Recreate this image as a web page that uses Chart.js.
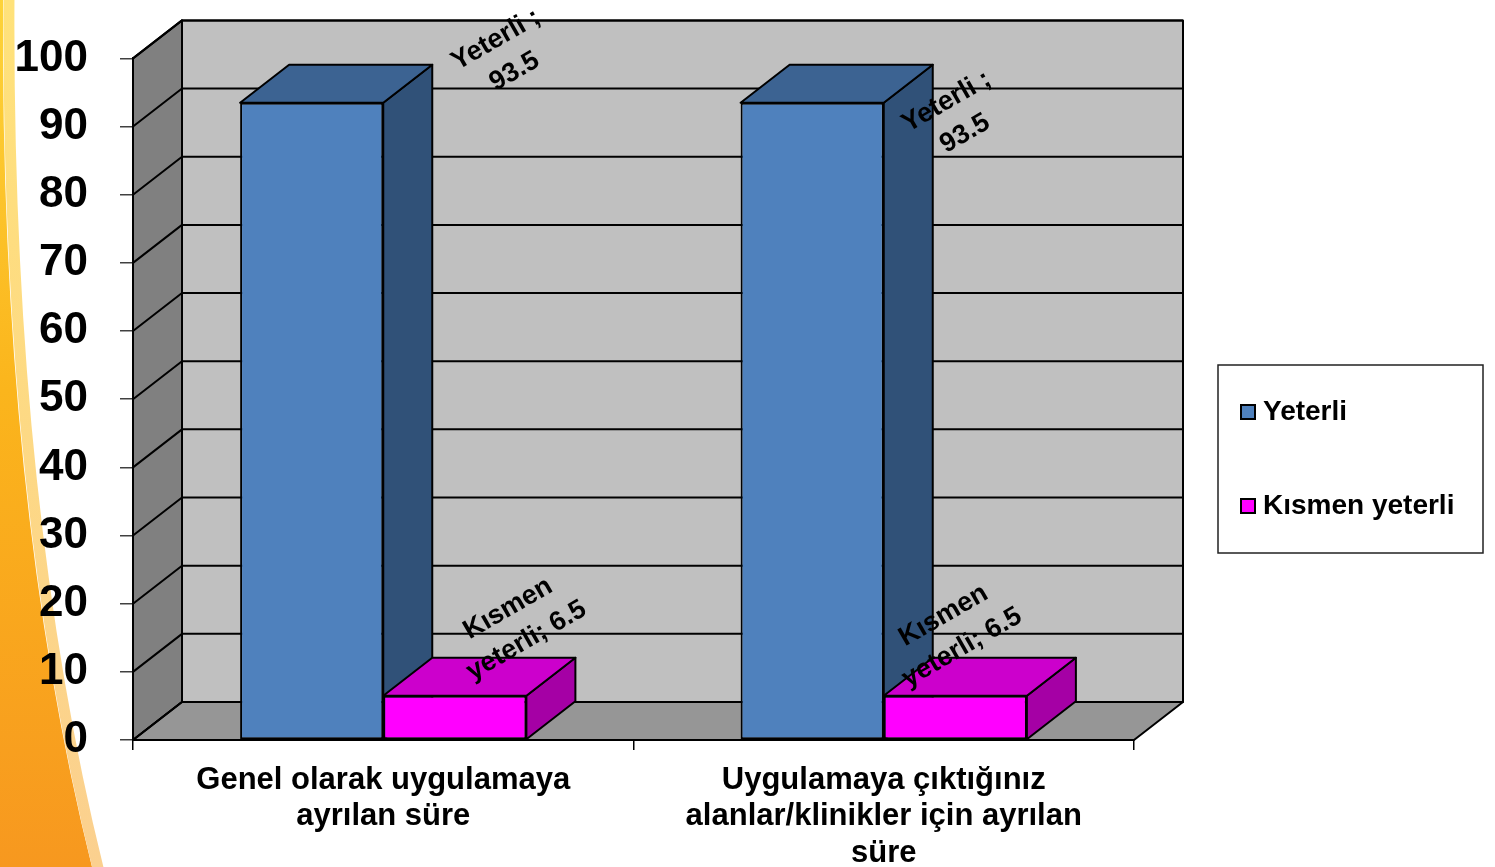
<!DOCTYPE html>
<html>
<head>
<meta charset="utf-8">
<script src="https://cdn.jsdelivr.net/npm/chart.js@4.4.0/dist/chart.umd.min.js"></script>
<style>
html, body { margin: 0; padding: 0; background: #fff; overflow: hidden; }
#wrap { width: 1495px; height: 867px; position: relative; }
</style>
</head>
<body>
<div id="wrap"><canvas id="chart"></canvas></div>
<script>
// data
let categories = [
    ['Genel olarak uygulamaya', 'ayrılan süre'],
    ['Uygulamaya çıktığınız', 'alanlar/klinikler için ayrılan', 'süre']
];
let seriesNames = ['Yeterli', 'Kısmen yeterli'];
let yeterli = [93.5, 93.5];
let kismenYeterli = [6.5, 6.5];
let yMin = 0, yMax = 100, yStep = 10;

// 3d depth of the plot
const DX = 49, DY = -38;

// where each data label sits, relative to category centre / value pixel
let labelOffsets = [
    [{dx: 122, dy: -47}, {dx: 72, dy: 15}],
    [{dx: 134, dy: -71}, {dx: 69, dy: -64}]
];

function labelLines(di, v) {
    if (di === 0) return [seriesNames[0] + ' ;', String(v)];
    let words = seriesNames[1].split(' ');
    return [words[0], words[1] + '; ' + v];
}

function poly(ctx, pts, fill) {
    ctx.beginPath();
    ctx.moveTo(pts[0][0], pts[0][1]);
    for (let i = 1; i < pts.length; i++) ctx.lineTo(pts[i][0], pts[i][1]);
    ctx.closePath();
    ctx.fillStyle = fill;
    ctx.fill();
    ctx.stroke();
}

function drawSwoosh(ctx, h) {
    let g = ctx.createLinearGradient(0, 0, 0, h);
    g.addColorStop(0, '#fdd33a');
    g.addColorStop(0.45, '#fbb51c');
    g.addColorStop(1, '#f7981f');
    ctx.beginPath();
    ctx.moveTo(0, 0);
    ctx.lineTo(3, 0);
    ctx.quadraticCurveTo(0, 500, 92, h);
    ctx.lineTo(0, h);
    ctx.closePath();
    ctx.fillStyle = g;
    ctx.fill();

    let b = ctx.createLinearGradient(0, 0, 0, h);
    b.addColorStop(0, '#ffe27a');
    b.addColorStop(1, '#fbd08f');
    ctx.beginPath();
    ctx.moveTo(9, -5);
    ctx.quadraticCurveTo(6, 500, 99, h + 5);
    ctx.lineWidth = 11;
    ctx.strokeStyle = b;
    ctx.stroke();
}

const wallsPlugin = {
    id: 'walls',
    beforeDraw(chart) {
        const {ctx, chartArea: a} = chart;
        const y = chart.scales.y;
        ctx.save();
        ctx.fillStyle = '#fff';
        ctx.fillRect(0, 0, chart.width, chart.height);
        drawSwoosh(ctx, chart.height);

        ctx.strokeStyle = '#000';
        ctx.lineWidth = 2;
        ctx.lineJoin = 'round';
        poly(ctx, [[a.left + DX, a.top + DY], [a.right + DX, a.top + DY], [a.right + DX, a.bottom + DY], [a.left + DX, a.bottom + DY]], '#c0c0c0');
        poly(ctx, [[a.left, a.top], [a.left + DX, a.top + DY], [a.left + DX, a.bottom + DY], [a.left, a.bottom]], '#808080');
        poly(ctx, [[a.left, a.bottom], [a.left + DX, a.bottom + DY], [a.right + DX, a.bottom + DY], [a.right, a.bottom]], '#969696');

        y.ticks.forEach(t => {
            let py = y.getPixelForValue(t.value);
            ctx.beginPath();
            ctx.moveTo(a.left, py);
            ctx.lineTo(a.left + DX, py + DY);
            ctx.lineTo(a.right + DX, py + DY);
            ctx.stroke();
        });
        ctx.restore();
    }
};

const barsPlugin = {
    id: 'bars3d',
    beforeDatasetsDraw(chart) {
        const ctx = chart.ctx;
        ctx.save();
        ctx.strokeStyle = '#000';
        ctx.lineWidth = 2;
        ctx.lineJoin = 'round';
        chart.data.datasets.forEach((ds, di) => {
            chart.getDatasetMeta(di).data.forEach(el => {
                const {x, y, base, width} = el.getProps(['x', 'y', 'base', 'width'], true);
                let l = x - width / 2, r = x + width / 2;
                poly(ctx, [[r, y], [r + DX, y + DY], [r + DX, base + DY], [r, base]], ds.sideColor);
                poly(ctx, [[l, y], [l + DX, y + DY], [r + DX, y + DY], [r, y]], ds.topColor);
            });
        });
        ctx.restore();
    }
};

const labelsPlugin = {
    id: 'rotLabels',
    afterDatasetsDraw(chart) {
        const ctx = chart.ctx;
        const xs = chart.scales.x, ys = chart.scales.y;
        ctx.save();
        ctx.fillStyle = '#000';
        ctx.font = 'bold 27px "Liberation Sans", Arial, sans-serif';
        ctx.textAlign = 'center';
        ctx.textBaseline = 'middle';
        chart.data.datasets.forEach((ds, di) => {
            ds.data.forEach((v, i) => {
                let off = labelOffsets[di][i];
                let cx = xs.getPixelForValue(i) + off.dx;
                let cy = ys.getPixelForValue(v) + off.dy;
                let lines = labelLines(di, v);
                ctx.save();
                ctx.translate(cx, cy);
                ctx.rotate(-30 * Math.PI / 180);
                lines.forEach((t, k) => {
                    ctx.fillText(t, 0, (k - (lines.length - 1) / 2) * 37);
                });
                ctx.restore();
            });
        });
        ctx.restore();
    }
};

const legendPlugin = {
    id: 'boxLegend',
    afterDraw(chart) {
        const ctx = chart.ctx;
        ctx.save();
        ctx.fillStyle = '#fff';
        ctx.fillRect(1218, 365, 265, 188);
        ctx.strokeStyle = '#222';
        ctx.lineWidth = 1.5;
        ctx.strokeRect(1218, 365, 265, 188);
        ctx.font = 'bold 28px "Liberation Sans", Arial, sans-serif';
        ctx.textBaseline = 'middle';
        ctx.textAlign = 'left';
        chart.data.datasets.forEach((ds, i) => {
            let cy = 412 + i * 94;
            ctx.fillStyle = ds.backgroundColor;
            ctx.fillRect(1241, cy - 7, 14, 14);
            ctx.strokeStyle = '#000';
            ctx.lineWidth = 2;
            ctx.strokeRect(1241, cy - 7, 14, 14);
            ctx.fillStyle = '#000';
            ctx.fillText(ds.label, 1263, cy);
        });
        ctx.restore();
    }
};

Chart.defaults.font.family = '"Liberation Sans", Arial, sans-serif';

let chart = new Chart(document.querySelector('#chart'), {
    type: 'bar',
    data: {
        labels: categories,
        datasets: [{
            label: seriesNames[0],
            data: yeterli,
            backgroundColor: '#4f81bd',
            topColor: '#3c6392',
            sideColor: '#305178',
            borderColor: '#000',
            borderWidth: 2,
            borderSkipped: false
        }, {
            label: seriesNames[1],
            data: kismenYeterli,
            backgroundColor: '#ff00ff',
            topColor: '#cc00cc',
            sideColor: '#a500a5',
            borderColor: '#000',
            borderWidth: 2,
            borderSkipped: false
        }]
    },
    options: {
        responsive: true,
        maintainAspectRatio: false,
        animation: false,
        categoryPercentage: 0.572,
        barPercentage: 1.0,
        layout: {padding: {top: 58, right: 361, left: 0, bottom: 0}},
        plugins: {
            legend: {display: false},
            tooltip: {enabled: false}
        },
        scales: {
            x: {
                grid: {drawOnChartArea: false, tickLength: 10, color: '#000', lineWidth: 1.5, offset: true},
                border: {color: '#000', width: 2},
                ticks: {color: '#000', font: {size: 31, weight: 'bold', lineHeight: 1.18}, maxRotation: 0, autoSkip: false, padding: 12},
                afterFit: s => { s.height = 127; }
            },
            y: {
                min: yMin,
                max: yMax,
                ticks: {stepSize: yStep, color: '#000', font: {size: 44, weight: 'bold'}, padding: 32},
                grid: {drawOnChartArea: false, tickLength: 13, color: '#404040', lineWidth: 1.5},
                border: {color: '#000', width: 2},
                afterFit: s => { s.width = 133; }
            }
        }
    },
    plugins: [wallsPlugin, barsPlugin, labelsPlugin, legendPlugin]
});
</script>
</body>
</html>
